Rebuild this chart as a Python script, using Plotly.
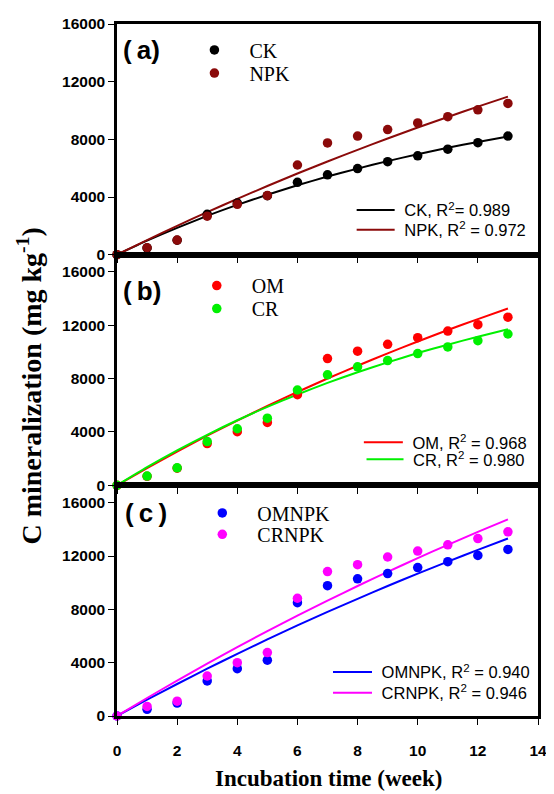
import plotly.graph_objects as go
from plotly.subplots import make_subplots

# ---------------- data ----------------
weeks = list(range(14))

ck = [0, 470, 1000, 2800, 3580, 4090, 5020, 5540, 5970, 6450, 6860, 7320, 7770, 8230]
npk = [0, 480, 1010, 2670, 3490, 4100, 6220, 7750, 8230, 8680, 9140, 9570, 10050, 10490]
om = [0, 680, 1290, 3130, 4020, 4720, 6800, 9510, 10060, 10580, 11075, 11570, 12050, 12610]
cr = [0, 695, 1315, 3280, 4245, 5040, 7150, 8290, 8890, 9360, 9880, 10380, 10850, 11350]
omnpk = [0, 500, 970, 2630, 3550, 4190, 8500, 9770, 10290, 10680, 11130, 11575, 12045, 12490]
crnpk = [0, 720, 1115, 3000, 4000, 4760, 8830, 10830, 11350, 11925, 12370, 12840, 13310, 13810]

# fitted curves, read at each week
ck_fit = [0, 970, 1860, 2690, 3450, 4160, 4810, 5420, 5970, 6490, 6970, 7410, 7820, 8200]
npk_fit = [0, 1010, 2000, 2950, 3870, 4760, 5630, 6460, 7270, 8060, 8820, 9550, 10270, 10960]
om_fit = [0, 1290, 2530, 3720, 4860, 5950, 7000, 8010, 8970, 9900, 10790, 11650, 12470, 13260]
cr_fit = [0, 1360, 2620, 3790, 4880, 5880, 6810, 7680, 8480, 9220, 9920, 10550, 11150, 11700]
omnpk_fit = [0, 1220, 2400, 3550, 4660, 5740, 6790, 7810, 8790, 9750, 10680, 11580, 12460, 13310]
crnpk_fit = [0, 1350, 2660, 3930, 5170, 6360, 7520, 8650, 9750, 10810, 11840, 12840, 13810, 14750]

fit_labels = ["CK, R<sup>2</sup>= 0.989", "NPK, R<sup>2</sup> = 0.972",
              "OM, R<sup>2</sup> = 0.968", "CR, R<sup>2</sup> = 0.980",
              "OMNPK, R<sup>2</sup> = 0.940", "CRNPK, R<sup>2</sup> = 0.946"]
panel_labels = ["(\u2009a)", "(\u2009b)", "(\u2009c\u2009)"]
x_ticks = [0, 2, 4, 6, 8, 10, 12, 14]
x_tick_text = ["0", "2", "4", "6", "8", "10", "12", "14"]
y_ticks = [0, 4000, 8000, 12000, 16000]
y_tick_text = ["0", "4000", "8000", "12000", "16000"]

# ---------------- layout helpers ----------------
# the page body has an 8px margin, so the figure is made 8px smaller
OFF = 8
W, H = 554 - OFF, 794 - OFF
ML, MR, MT, MB = 117 - OFF, 10, 15 - OFF, 78
PW = W - ML - MR
PH = H - MT - MB


def px(x):  # page pixel -> paper
    return (x - OFF - ML) / PW


def py(y):
    return (H - MB - (y - OFF)) / PH


SERIF = "Liberation Serif, Times New Roman, serif"
SANS = "Liberation Sans, Arial, sans-serif"

fig = make_subplots(rows=3, cols=1, shared_xaxes=True, vertical_spacing=0)

panels = [
    (1, ck, npk, ck_fit, npk_fit, "CK", "NPK", "#000000", "#8B0A0A"),
    (2, om, cr, om_fit, cr_fit, "OM", "CR", "#FF0000", "#00F000"),
    (3, omnpk, crnpk, omnpk_fit, crnpk_fit, "OMNPK", "CRNPK", "#0000FF", "#FF00FF"),
]

# legend placement (page pixel positions of marker centre / line start, row centre)
mleg_pos = [((215.3, 41.3), (215.3, 64.7)),
            ((217.7, 280.0), (217.7, 303.3)),
            ((223.3, 510.3), (223.3, 532.0))]
lleg_pos = [((360, 203.7, 38), (360, 223.7, 38)),
            ((367.3, 439.0, 39), (370, 456.3, 37)),
            ((336, 671.7, 39), (336, 692.7, 39))]

legends = {}
li = 0
for pi, (row, s1, s2, f1, f2, n1, n2, c1, c2) in enumerate(panels):
    for k, (fv, col) in enumerate([(f1, c1), (f2, c2)]):
        li += 1
        lname = "legend" if li == 1 else f"legend{li}"
        xs, ys, iw = lleg_pos[pi][k]
        legends[lname] = dict(x=px(xs - 5), y=py(ys), xanchor="left", yanchor="middle",
                              itemwidth=iw, bgcolor="rgba(0,0,0,0)", borderwidth=0,
                              font=dict(family=SANS, size=16.5, color="black"))
        fig.add_trace(go.Scatter(x=weeks, y=fv, mode="lines",
                                 line=dict(color=col, width=2, shape="spline", smoothing=0.6),
                                 name="\u00a0" + fit_labels[pi * 2 + k], legend=lname,
                                 hoverinfo="skip"), row=row, col=1)
    for k, (sv, nm, col) in enumerate([(s1, n1, c1), (s2, n2, c2)]):
        li += 1
        lname = f"legend{li}"
        xm, ym = mleg_pos[pi][k]
        legends[lname] = dict(x=px(xm - 35), y=py(ym), xanchor="left", yanchor="middle",
                              itemwidth=60, bgcolor="rgba(0,0,0,0)", borderwidth=0,
                              font=dict(family=SERIF, size=20, color="black"))
        fig.add_trace(go.Scatter(x=weeks, y=sv, mode="markers", cliponaxis=False,
                                 marker=dict(color=col, size=9.5, line=dict(width=0)),
                                 name=nm, legend=lname), row=row, col=1)

axis_common = dict(showline=True, linewidth=2.5, linecolor="black", mirror=True,
                   ticks="outside", ticklen=6, tickwidth=1.2, tickcolor="black",
                   showgrid=False, zeroline=False)
tickfont = dict(family=SANS, size=15.5, color="black", weight="bold")

for row in (1, 2, 3):
    fig.update_xaxes(range=[0, 14], tickmode="array", tickvals=x_ticks, ticktext=x_tick_text,
                     tickfont=tickfont, ticklabelstandoff=13, **axis_common, row=row, col=1)
    yr = [0, 16000] if row == 1 else [0, 17300]
    fig.update_yaxes(range=yr, tickmode="array", tickvals=y_ticks, ticktext=y_tick_text,
                     tickfont=tickfont, **axis_common, row=row, col=1)

annotations = []
label_pos = [(121.5, 41.3), (121.5, 285.7), (123.5, 510.5)]
for lab, (lx, ly) in zip(panel_labels, label_pos):
    annotations.append(dict(text=lab, x=px(lx), y=py(ly), xref="paper", yref="paper",
                            xanchor="left", yanchor="middle", showarrow=False,
                            font=dict(family=SANS, size=26, color="black", weight="bold")))

annotations.append(dict(text="C mineralization (mg kg<sup>-1</sup>)", textangle=-90,
                        x=px(28), y=py(382), xref="paper", yref="paper",
                        xanchor="center", yanchor="middle", showarrow=False,
                        font=dict(family=SERIF, size=28, color="black", weight="bold")))
annotations.append(dict(text="Incubation time (week)",
                        x=px(331.5), y=py(779), xref="paper", yref="paper",
                        xanchor="center", yanchor="middle", showarrow=False,
                        font=dict(family=SERIF, size=23, color="black", weight="bold")))

fig.update_layout(width=W, height=H, margin=dict(l=ML, r=MR, t=MT, b=MB),
                  paper_bgcolor="white", plot_bgcolor="white", showlegend=True,
                  annotations=annotations, **legends)

fig.write_html("out.html")
